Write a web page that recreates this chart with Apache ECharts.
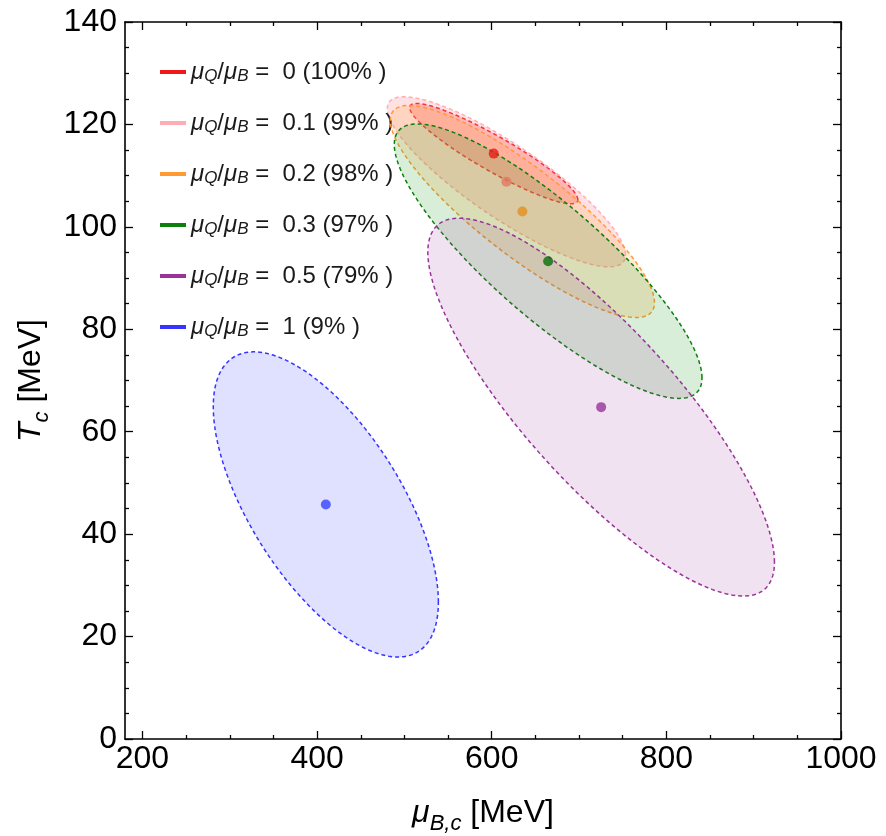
<!DOCTYPE html>
<html>
<head>
<meta charset="utf-8">
<script src="https://cdn.jsdelivr.net/npm/echarts@6/dist/echarts.min.js"></script>
<style>html,body{margin:0;padding:0;background:#fff}#c{width:886px;height:836px}</style>
</head>
<body>
<div id="c"></div>
<script>
// ---- data ----
const ratioLabels = ['0', '0.1', '0.2', '0.3', '0.5', '1'];
const percentLabels = ['100%', '99%', '98%', '97%', '79%', '9%'];
const centerX = [602.3, 616.8, 635.1, 664.6, 725.3, 410.0];      // mu_B,c [MeV]
const centerY = [114.3, 108.8, 103.0, 93.3, 64.8, 45.8];         // T_c [MeV]
const halfWidthX = [96.3, 136.4, 151.3, 176.2, 198.5, 128.9];    // x half-extent of contour
const halfHeightY = [9.8, 16.6, 20.7, 26.8, 36.9, 29.8];         // y half-extent of contour
const correlation = [-0.918, -0.86, -0.86, -0.85, -0.82, -0.64]; // tilt of contour
const lineColors = ['#f01818', '#ffadb5', '#ff9a33', '#0c7f0c', '#993399', '#3535ff'];
const fillColors = ['rgba(255,40,30,0.28)', 'rgba(255,140,150,0.26)', 'rgba(255,160,50,0.2)', 'rgba(20,150,20,0.16)', 'rgba(160,60,160,0.15)', 'rgba(60,60,255,0.16)'];
const dotColors = ['#e81a14', '#e07862', '#e3901c', '#0a6e0a', '#993399', '#3344ff'];
const xTicks = [200, 400, 600, 800, 1000];
const xMinorTicks = [250, 300, 350, 450, 500, 550, 650, 700, 750, 850, 900, 950];

const FONT = '"Liberation Sans", Arial, sans-serif';
const names = ratioLabels.map((r, i) => 'μQ/μB = ' + r + ' (' + percentLabels[i] + ' )');

const ellipseSeries = names.map((nm, i) => ({
  type: 'custom',
  name: nm,
  coordinateSystem: 'cartesian2d',
  xAxisIndex: 0, yAxisIndex: 0,
  z: 2 + i,
  itemStyle: { color: lineColors[i] },
  data: [[centerX[i], centerY[i], halfWidthX[i], halfHeightY[i], correlation[i]]],
  encode: { x: 0, y: 1 },
  renderItem: function (params, api) {
    const cx = api.value(0), cy = api.value(1), sx = api.value(2), sy = api.value(3), rho = api.value(4);
    const s = Math.sqrt(1 - rho * rho);
    const pts = [];
    const N = 180;
    for (let k = 0; k < N; k++) {
      const t = 2 * Math.PI * k / N;
      const x = cx + sx * Math.cos(t);
      const y = cy + sy * (rho * Math.cos(t) + s * Math.sin(t));
      pts.push(api.coord([x, y]));
    }
    return {
      type: 'polygon',
      shape: { points: pts },
      style: { fill: fillColors[i], stroke: lineColors[i], lineWidth: 1.5, lineDash: [4, 3] }
    };
  }
}));

const dotSeries = {
  type: 'scatter',
  name: 'centers',
  xAxisIndex: 0, yAxisIndex: 0,
  z: 20,
  symbolSize: 10,
  data: centerX.map((x, i) => ({ value: [x, centerY[i]], itemStyle: { color: dotColors[i] } }))
};

const axisLineStyle = { show: true, lineStyle: { color: '#000', width: 1.6 } };
const tickStyle = { color: '#000', width: 1.3 };

function xAx(pos, minor, labels) {
  return {
    type: 'value', position: pos, min: 180, max: 1000,
    axisLine: minor ? { show: false } : axisLineStyle,
    splitLine: { show: false },
    axisTick: { show: true, inside: true, length: minor ? 4 : 8, lineStyle: tickStyle, customValues: minor ? xMinorTicks : xTicks },
    axisLabel: labels ? { show: true, customValues: xTicks, fontSize: 32, fontFamily: FONT, color: '#000', margin: 4, formatter: v => String(v) } : { show: false },
    name: labels ? '{m|μ}{s|B,c}{n| [MeV]}' : '',
    nameLocation: 'middle',
    nameGap: 52,
    nameTextStyle: {
      fontFamily: FONT, color: '#000',
      rich: {
        m: { fontSize: 32, fontStyle: 'italic', fontFamily: FONT, color: '#000', lineHeight: 44, verticalAlign: 'middle' },
        s: { fontSize: 22, fontStyle: 'italic', fontFamily: FONT, color: '#000', lineHeight: 44, verticalAlign: 'bottom' },
        n: { fontSize: 32, fontFamily: FONT, color: '#000', lineHeight: 44, verticalAlign: 'middle' }
      }
    }
  };
}
function yAx(pos, labels) {
  return {
    type: 'value', position: pos, min: 0, max: 140, interval: 20,
    axisLine: axisLineStyle,
    splitLine: { show: false },
    axisTick: { show: true, inside: true, length: 8, lineStyle: tickStyle },
    minorTick: { show: true, splitNumber: 4, length: 4, lineStyle: tickStyle },
    minorSplitLine: { show: false },
    axisLabel: labels ? { show: true, fontSize: 32, fontFamily: FONT, color: '#000', margin: 8 } : { show: false },
    name: labels ? '{m|T}{s|c}{n| [MeV]}' : '',
    nameLocation: 'middle',
    nameRotate: 90,
    nameGap: 68,
    nameTextStyle: {
      fontFamily: FONT, color: '#000',
      rich: {
        m: { fontSize: 32, fontStyle: 'italic', fontFamily: FONT, color: '#000', lineHeight: 44, verticalAlign: 'middle' },
        s: { fontSize: 22, fontStyle: 'italic', fontFamily: FONT, color: '#000', lineHeight: 44, verticalAlign: 'bottom' },
        n: { fontSize: 32, fontFamily: FONT, color: '#000', lineHeight: 44, verticalAlign: 'middle' }
      }
    }
  };
}

const chart = echarts.init(document.getElementById('c'), null, { renderer: 'canvas' });
chart.setOption({
  animation: false,
  backgroundColor: '#fff',
  grid: { left: 125, right: 45, top: 22, bottom: 97, containLabel: false, outerBoundsMode: 'none' },
  xAxis: [xAx('bottom', false, true), xAx('bottom', true, false), xAx('top', false, false), xAx('top', true, false)],
  yAxis: [yAx('left', true), yAx('right', false)],
  legend: {
    orient: 'vertical', left: 155, top: 55,
    itemWidth: 26, itemHeight: 4, itemGap: 26,
    icon: 'rect',
    data: names.map((nm, i) => ({ name: nm, itemStyle: { color: lineColors[i] } })),
    formatter: function (name) {
      const i = names.indexOf(name);
      return '{m|μ}{s|Q}{n|/}{m|μ}{s|B}{n| =  ' + ratioLabels[i] + ' (' + percentLabels[i] + ' )}';
    },
    textStyle: {
      fontFamily: FONT, color: '#1a1a1a',
      rich: {
        m: { fontSize: 24, fontStyle: 'italic', fontFamily: FONT, color: '#1a1a1a', lineHeight: 26, verticalAlign: 'middle' },
        s: { fontSize: 17, fontStyle: 'italic', fontFamily: FONT, color: '#1a1a1a', lineHeight: 26, verticalAlign: 'bottom' },
        n: { fontSize: 24, fontFamily: FONT, color: '#1a1a1a', lineHeight: 26, verticalAlign: 'middle' }
      }
    }
  },
  series: ellipseSeries.concat([dotSeries])
});
</script>
</body>
</html>
